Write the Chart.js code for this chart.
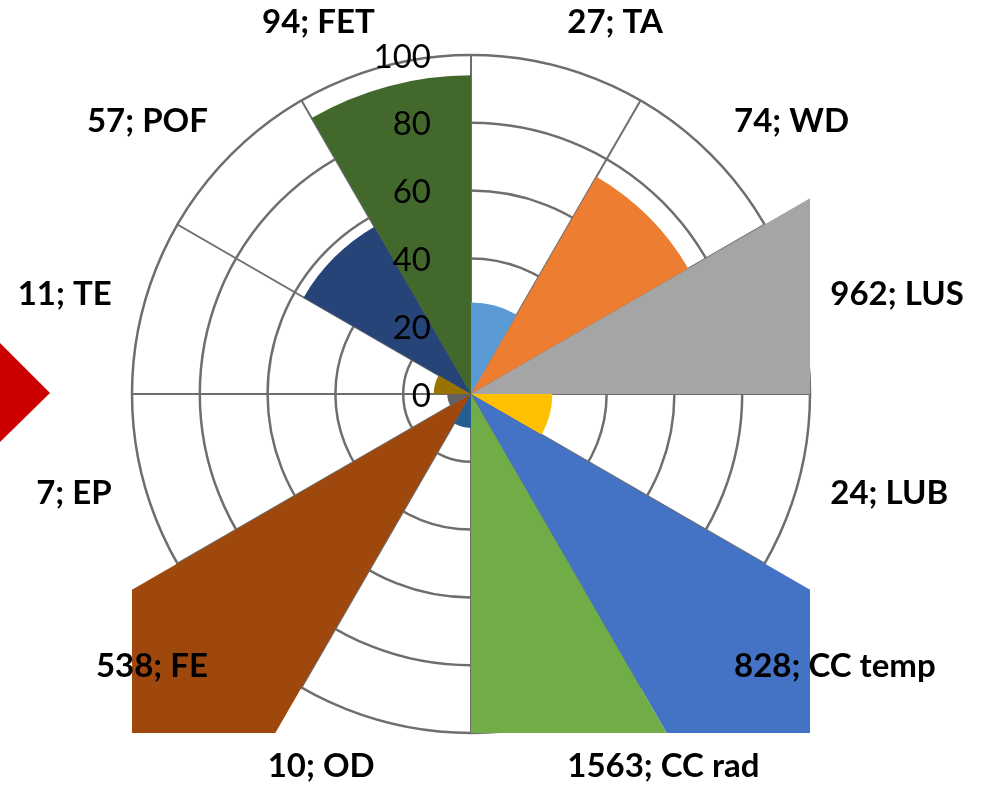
<!DOCTYPE html>
<html>
<head>
<meta charset="utf-8">
<script src="https://cdn.jsdelivr.net/npm/chart.js@4/dist/chart.umd.min.js"></script>
<style>
    html, body { margin: 0; padding: 0; background: #fff; }
    #wrap { width: 987px; height: 787px; }
</style>
</head>
<body>
<div id="wrap"><canvas id="chart" width="987" height="787"></canvas></div>
<script>
/* Data */
var categories = ['TA', 'WD', 'LUS', 'LUB', 'CC temp', 'CC rad', 'OD', 'FE', 'EP', 'TE', 'POF', 'FET'];
var values = [27, 74, 962, 24, 828, 1563, 10, 538, 7, 11, 57, 94];
var scaleMin = 0;
var scaleMax = 100;
var scaleStep = 20;

// Excel palette, lighter then darker round
var sliceColors = ['#5B9BD5', '#ED7D31', '#A5A5A5', '#FFC000', '#4472C4', '#70AD47',
                   '#255E91', '#9E480E', '#636363', '#997300', '#264478', '#43682B'];

var FONT = 'Lato, "Open Sans", sans-serif';

// red arrow cut off at the left border of the slide
var arrowPlugin = {
    id: 'arrow',
    beforeDraw: function(chart) {
        var ctx = chart.ctx;
        ctx.save();
        ctx.fillStyle = '#CC0000';
        ctx.beginPath();
        ctx.moveTo(0, 343);
        ctx.lineTo(50, 393);
        ctx.lineTo(0, 442);
        ctx.closePath();
        ctx.fill();
        ctx.restore();
    }
};

// tick numbers on the left of the vertical axis + "value; name" labels
var labelPlugin = {
    id: 'labels',
    afterDatasetsDraw: function(chart) {
        var ctx = chart.ctx;
        var r = chart.scales.r;
        var xc = r.xCenter, yc = r.yCenter;

        ctx.save();
        ctx.fillStyle = '#000';
        ctx.font = 'normal 33px ' + FONT;
        ctx.textAlign = 'right';
        ctx.textBaseline = 'middle';
        r.ticks.forEach(function(t) {
            var d = r.getDistanceFromCenterForValue(t.value);
            ctx.fillText(String(t.value), xc - 40, yc - d + 2);
        });

        ctx.font = 'bold 33px ' + FONT;
        var rx = r.drawingArea + 33;
        var ry = r.drawingArea + 46;
        var step = Math.PI * 2 / categories.length;
        categories.forEach(function(name, i) {
            var a = r.getIndexAngle(i) + step / 2;
            var x = xc + rx * Math.sin(a);
            var y = yc - ry * Math.cos(a);
            ctx.textAlign = Math.sin(a) >= 0 ? 'left' : 'right';
            ctx.fillText(values[i] + '; ' + name, x, y);
        });
        ctx.restore();
    }
};

new Chart(document.getElementById('chart'), {
    type: 'polarArea',
    data: {
        labels: categories,
        datasets: [{
            data: values,
            backgroundColor: sliceColors,
            borderWidth: 0,
            clip: 0
        }]
    },
    options: {
        responsive: false,
        animation: false,
        layout: {
            padding: { left: 132, top: 55, right: 177, bottom: 54 }
        },
        plugins: {
            legend: { display: false },
            tooltip: { enabled: false }
        },
        scales: {
            r: {
                min: scaleMin,
                max: scaleMax,
                ticks: { stepSize: scaleStep, display: false },
                grid: { circular: true, color: '#6e6e6e', lineWidth: 2.5 },
                angleLines: { display: true, color: '#6e6e6e', lineWidth: 2 },
                pointLabels: { display: false }
            }
        }
    },
    plugins: [arrowPlugin, labelPlugin]
});
</script>
</body>
</html>
